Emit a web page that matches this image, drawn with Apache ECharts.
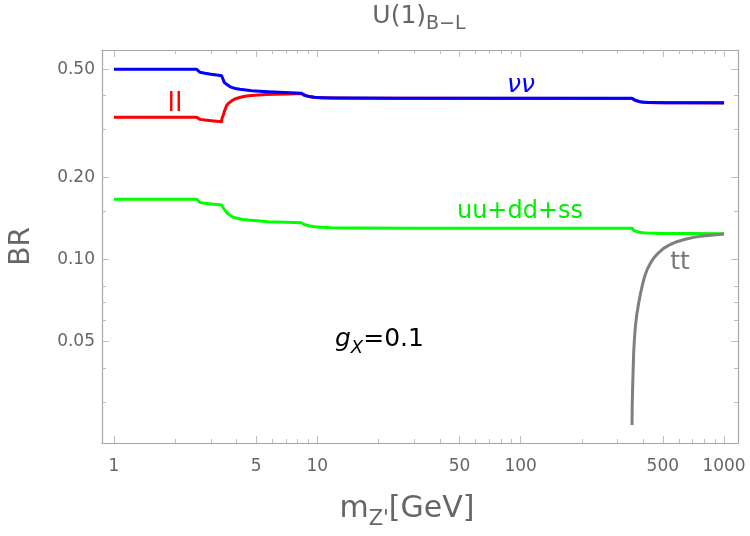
<!DOCTYPE html>
<html><head><meta charset="utf-8">
<script src="https://cdn.jsdelivr.net/npm/echarts@6/dist/echarts.min.js"></script>
<style>html,body{margin:0;padding:0;background:#fff}#c{width:750px;height:536px}</style>
</head><body><div id="c"></div>
<script>
// ---- tick values ----
const xMajorTicks = [1, 5, 10, 50, 100, 500, 1000];
const xMinorTicks = [2, 3, 4, 6, 7, 8, 9, 20, 30, 40, 60, 70, 80, 90, 200, 300, 400, 600, 700, 800, 900];
const yMajorTicks = [0.05, 0.1, 0.2, 0.5];
const yMinorTicks = [0.03, 0.04, 0.06, 0.07, 0.08, 0.15, 0.3, 0.4];

// ---- series data (m_Z' in GeV, BR) ----
const nuMass = [1, 2.552, 2.60, 2.649, 2.8, 3.0, 3.2, 3.383, 3.402, 3.45, 3.481, 3.58, 3.683, 3.788, 3.95, 4.159, 4.45, 4.748, 5.2, 5.733, 6.5, 7.4, 8.351, 8.45, 8.6, 8.83, 9.2, 9.70, 10.46, 12, 15, 25, 352.7, 355, 360, 367, 375, 387, 400, 425, 450, 520, 600, 1000];
const nuBR   = [0.5, 0.5, 0.492, 0.4875, 0.4835, 0.4795, 0.4765, 0.4737, 0.4666, 0.4568, 0.448, 0.4405, 0.434, 0.4294, 0.425, 0.4222, 0.4195, 0.4173, 0.4155, 0.4138, 0.412, 0.410, 0.4082, 0.405, 0.4025, 0.4000, 0.397, 0.3945, 0.3935, 0.3925, 0.3920, 0.3914, 0.3911, 0.389, 0.387, 0.3845, 0.382, 0.380, 0.379, 0.378, 0.3775, 0.377, 0.3768, 0.3765];

const llMass = [1, 2.552, 2.60, 2.649, 2.8, 3.0, 3.2, 3.383, 3.395, 3.423, 3.45, 3.481, 3.513, 3.58, 3.65, 3.788, 3.932, 4.15, 4.401, 4.75, 5.121, 5.6, 6.176, 7.2, 8.351, 8.45, 8.6, 8.83, 9.2, 9.70, 10.46, 12, 15, 25, 352.7, 355, 360, 367, 375, 387, 400, 425, 450, 520, 600, 1000];
const llBR   = [0.3333, 0.3333, 0.329, 0.3275, 0.3255, 0.3237, 0.3222, 0.3212, 0.3298, 0.3353, 0.3398, 0.349, 0.355, 0.3683, 0.375, 0.3831, 0.389, 0.394, 0.398, 0.4005, 0.4023, 0.4037, 0.4047, 0.4062, 0.4075, 0.4045, 0.402, 0.3995, 0.3966, 0.3942, 0.3932, 0.3922, 0.3917, 0.3911, 0.3908, 0.3887, 0.3867, 0.3842, 0.3817, 0.3797, 0.3787, 0.3777, 0.3772, 0.3767, 0.3765, 0.3762];

const qMass = [1, 2.552, 2.60, 2.649, 2.8, 3.0, 3.2, 3.383, 3.44, 3.513, 3.58, 3.65, 3.766, 3.932, 4.241, 4.574, 5.733, 7.0, 8.351, 8.45, 8.6, 8.83, 9.2, 9.70, 10.46, 11.71, 15, 30, 352.7, 355, 360, 367, 380, 400, 418, 500, 700, 1000];
const qBR   = [0.1667, 0.1667, 0.1640, 0.1623, 0.1610, 0.1601, 0.1594, 0.1589, 0.1551, 0.1521, 0.149, 0.1467, 0.1445, 0.1425, 0.1407, 0.1398, 0.1378, 0.1371, 0.1366, 0.1355, 0.1347, 0.1340, 0.1330, 0.1321, 0.1315, 0.1310, 0.1307, 0.1305, 0.1304, 0.1292, 0.1280, 0.1272, 0.1262, 0.1256, 0.1252, 0.1249, 0.1247, 0.1245];

const ttMass = [352.7, 353.5, 355.2, 359.3, 362.2, 366.3, 372.6, 380.2, 387.5, 395.1, 405.3, 417.8, 433.8, 450.3, 474.8, 504.1, 543.6, 586.2, 644, 707.2, 762.7, 886, 1000];
const ttBR   = [0.0247, 0.0290, 0.0342, 0.0453, 0.0507, 0.0568, 0.0632, 0.0692, 0.0746, 0.0796, 0.0860, 0.0917, 0.0969, 0.1012, 0.1058, 0.110, 0.1137, 0.1164, 0.1188, 0.1208, 0.1218, 0.1233, 0.1243];

const X_MIN = 0.873, X_MAX = 1171, Y_MIN = 0.02123, Y_MAX = 0.5887;
const FONT = 'DejaVu Sans';
const frameColor = '#a6a6a6';
const tickColor = '#bdbdbd';
const labelColor = '#666666';

function zip(a, b) { return a.map((v, i) => [v, b[i]]); }

function xAx(pos, vals, len, labels, line) {
  return {
    type: 'log', logBase: 10, min: X_MIN, max: X_MAX, position: pos, gridIndex: 0,
    axisLine: { show: line, onZero: false, lineStyle: { color: frameColor, width: 1.2 } },
    axisTick: { show: true, inside: true, length: len, customValues: vals, lineStyle: { color: tickColor, width: 1 } },
    axisLabel: { show: labels, customValues: vals, margin: 15, color: labelColor, fontSize: 17, fontFamily: FONT,
      formatter: v => String(Math.round(Number(v))) },
    splitLine: { show: false }, minorTick: { show: false }, minorSplitLine: { show: false }
  };
}
function yAx(pos, vals, len, labels, line) {
  return {
    type: 'log', logBase: 10, min: Y_MIN, max: Y_MAX, position: pos, gridIndex: 0,
    axisLine: { show: line, onZero: false, lineStyle: { color: frameColor, width: 1.2 } },
    axisTick: { show: true, inside: true, length: len, customValues: vals, lineStyle: { color: tickColor, width: 1 } },
    axisLabel: { show: labels, customValues: vals, margin: 7, color: labelColor, fontSize: 17, fontFamily: FONT,
      formatter: v => Number(v).toFixed(2) },
    splitLine: { show: false }, minorTick: { show: false }, minorSplitLine: { show: false }
  };
}

const xAxes = [
  xAx('bottom', xMajorTicks, 7, true, true),
  xAx('bottom', xMinorTicks, 4, false, false),
  xAx('top', xMajorTicks, 7, false, true),
  xAx('top', xMinorTicks, 4, false, false)
];
Object.assign(xAxes[0], {
  name: '{a|m}{s|Z\'}{a|[GeV]}', nameLocation: 'middle', nameGap: 51,
  nameTextStyle: { padding: [0, 26, 0, 0], rich: {
    a: { fontSize: 30, fontFamily: FONT, color: labelColor, lineHeight: 36, verticalAlign: 'top' },
    s: { fontSize: 21, fontFamily: FONT, color: labelColor, lineHeight: 21, verticalAlign: 'bottom' }
  } }
});
const yAxes = [
  yAx('left', yMajorTicks, 7, true, true),
  yAx('left', yMinorTicks, 4, false, false),
  yAx('right', yMajorTicks, 7, false, true),
  yAx('right', yMinorTicks, 4, false, false)
];
Object.assign(yAxes[0], {
  name: 'BR', nameLocation: 'middle', nameGap: 66, nameRotate: 90,
  nameTextStyle: { fontSize: 28, fontFamily: FONT, color: labelColor }
});

function lineSeries(name, data, color, z) {
  return { name, type: 'line', xAxisIndex: 0, yAxisIndex: 0, data, showSymbol: false, symbol: 'none',
    smooth: false, z, lineStyle: { color, width: 3, join: 'round', cap: 'butt' }, animation: false };
}

const chart = echarts.init(document.getElementById('c'), null, { renderer: 'canvas' });
chart.setOption({
  animation: false,
  backgroundColor: '#ffffff',
  title: {
    text: '{a|U(1)}{s|B\u2212L}', left: 419, textAlign: 'center', top: 4, padding: 0,
    textStyle: { fontWeight: 'normal', rich: {
      a: { fontSize: 25, fontWeight: 'normal', fontFamily: FONT, color: labelColor, lineHeight: 30, verticalAlign: 'top' },
      s: { fontSize: 19, fontWeight: 'normal', fontFamily: FONT, color: labelColor, lineHeight: 19, verticalAlign: 'bottom' }
    } }
  },
  grid: { left: 100, right: 12, top: 50, bottom: 93, containLabel: false },
  xAxis: xAxes,
  yAxis: yAxes,
  series: [
    lineSeries('uu+dd+ss', zip(qMass, qBR), '#00ff00', 2),
    lineSeries('tt', zip(ttMass, ttBR), '#7f7f7f', 3),
    lineSeries('ll', zip(llMass, llBR), '#ff0000', 4),
    lineSeries('νν', zip(nuMass, nuBR), '#0000ff', 5)
  ],
  graphic: [
    { type: 'text', x: 521, y: 85, z: 10, style: { text: '\u03bd\u03bd', fontFamily: FONT, fontSize: 25, fontStyle: 'italic', fill: '#0000ff', align: 'center', verticalAlign: 'middle' } },
    { type: 'text', x: 175, y: 104, z: 10, style: { text: 'll', fontFamily: FONT, fontSize: 27, fill: '#ff0000', align: 'center', verticalAlign: 'middle' } },
    { type: 'text', x: 520, y: 212, z: 10, style: { text: 'uu+dd+ss', fontFamily: FONT, fontSize: 24, fill: '#00ee00', align: 'center', verticalAlign: 'middle' } },
    { type: 'text', x: 680, y: 262, z: 10, style: { text: 'tt', fontFamily: FONT, fontSize: 25, fill: '#777777', align: 'center', verticalAlign: 'middle' } },
    { type: 'text', x: 335, y: 342, z: 10, style: { text: '{g|g}{s|X}{n|=0.1}', align: 'left', verticalAlign: 'middle',
      rich: {
        g: { fontSize: 25, fontStyle: 'italic', fontFamily: FONT, fill: '#000', lineHeight: 30, verticalAlign: 'top' },
        s: { fontSize: 18, fontStyle: 'italic', fontFamily: FONT, fill: '#000', lineHeight: 18, verticalAlign: 'bottom' },
        n: { fontSize: 25, fontFamily: FONT, fill: '#000', lineHeight: 30, verticalAlign: 'top' }
      } } }
  ]
});
</script>
</body></html>
